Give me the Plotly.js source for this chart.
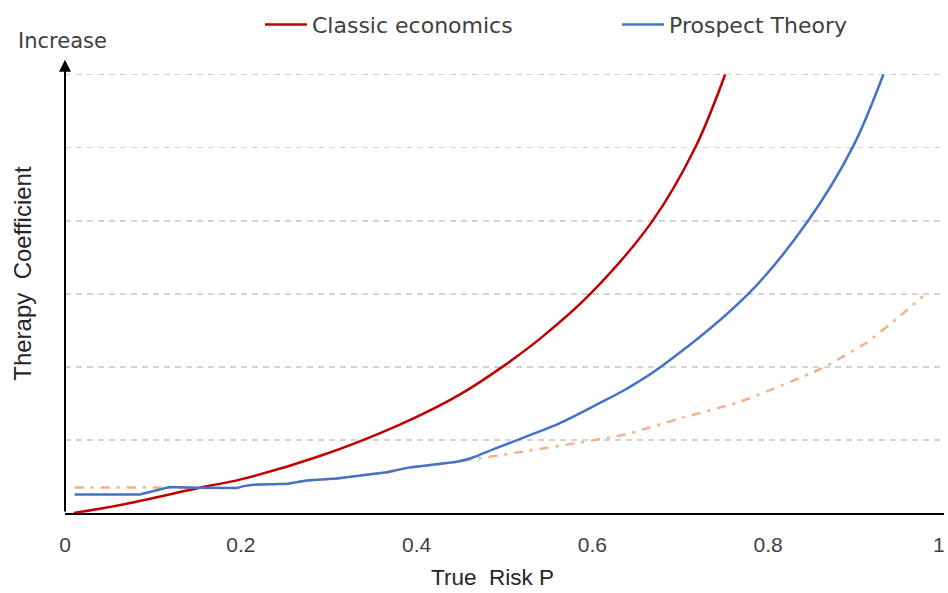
<!DOCTYPE html>
<html>
<head>
<meta charset="utf-8">
<script src="https://cdn.plot.ly/plotly-3.0.1.min.js"></script>
<style>html,body{margin:0;padding:0;background:#fff;}#chart{width:948px;height:593px;}</style>
</head>
<body>
<div id="chart"></div>
<script>
// True risk P (x) and therapy coefficient (y)
const classicX = [0.01, 0.063, 0.157, 0.200, 0.290, 0.381, 0.449, 0.500, 0.544, 0.597, 0.668, 0.717, 0.751];
const classicY = [0, 0.11, 0.355, 0.46, 0.78, 1.21, 1.62, 2.02, 2.42, 2.99, 3.99, 5.0, 6.0];

// Prospect theory: stepped low-risk part, then the smooth rising part
const prospectLowX = [0.011, 0.085, 0.100, 0.119, 0.150, 0.196, 0.203, 0.214, 0.253, 0.275, 0.309, 0.336, 0.366, 0.392, 0.427, 0.446];
const prospectLowY = [0.252, 0.252, 0.297, 0.355, 0.347, 0.341, 0.368, 0.387, 0.400, 0.445, 0.472, 0.512, 0.557, 0.624, 0.670, 0.701];
const prospectHighX = [0.446, 0.464, 0.487, 0.526, 0.563, 0.601, 0.639, 0.678, 0.777, 0.845, 0.896, 0.931];
const prospectHighY = [0.701, 0.76, 0.87, 1.052, 1.231, 1.46, 1.70, 2.0, 2.993, 3.991, 5.002, 6.0];

const dashedX = [0.011, 0.105, 0.196, 0.214, 0.253, 0.275, 0.309, 0.336, 0.366, 0.392, 0.427, 0.446, 0.526, 0.582, 0.639, 0.696, 0.768, 0.859, 0.912, 0.950, 0.976];
const dashedY = [0.35, 0.35, 0.344, 0.387, 0.400, 0.445, 0.472, 0.512, 0.557, 0.624, 0.670, 0.701, 0.849, 0.957, 1.079, 1.281, 1.524, 1.968, 2.333, 2.696, 2.966];

const xTickVals = [0, 0.2, 0.4, 0.6, 0.8, 1];
const xTickText = ['0', '0.2', '0.4', '0.6', '0.8', ''];
const lastTickText = '1';
const gridVals = [1, 2, 3, 4, 5, 6];

const blue = '#4472C4';
const traces = [
  {x: dashedX, y: dashedY, mode: 'lines', showlegend: false, hoverinfo: 'skip',
   line: {color: '#F4B183', width: 2.5, dash: '9px,7px,3px,7px', shape: 'spline', smoothing: 0.5}},
  {x: classicX, y: classicY, mode: 'lines', name: 'Classic economics', legend: 'legend',
   line: {color: '#C00000', width: 2.5, shape: 'spline', smoothing: 1}},
  {x: prospectLowX, y: prospectLowY, mode: 'lines', name: 'Prospect Theory', legend: 'legend2',
   line: {color: blue, width: 2.5}},
  {x: prospectHighX, y: prospectHighY, mode: 'lines', showlegend: false,
   line: {color: blue, width: 2.5, shape: 'spline', smoothing: 1}}
];

const legendFont = {family: 'DejaVu Sans, sans-serif', size: 22, color: '#404040'};
const layout = {
  width: 948, height: 593,
  margin: {l: 65, r: 4, t: 67, b: 80},
  paper_bgcolor: '#ffffff', plot_bgcolor: '#ffffff',
  font: {family: 'Liberation Sans, Arial, sans-serif', color: '#404040'},
  showlegend: true,
  legend: {orientation: 'h', x: 0.2218, y: 1.11, xanchor: 'left', yanchor: 'middle',
           font: legendFont, itemwidth: 42, bgcolor: 'rgba(0,0,0,0)'},
  legend2: {orientation: 'h', x: 0.628, y: 1.11, xanchor: 'left', yanchor: 'middle',
           font: legendFont, itemwidth: 42, bgcolor: 'rgba(0,0,0,0)'},
  xaxis: {range: [0, 1], tickvals: xTickVals, ticktext: xTickText, showgrid: false,
          zeroline: false, showline: true, linecolor: '#000000', linewidth: 2,
          ticks: '', ticklabelstandoff: 12,
          tickfont: {size: 21, color: '#404040'}, automargin: false, fixedrange: true},
  yaxis: {range: [0, 6.02], tickvals: gridVals, showticklabels: false, showgrid: true,
          gridcolor: '#D3D3D3', gridwidth: 1.8, griddash: '6px,5px', zeroline: false,
          showline: false, ticks: '', automargin: false, fixedrange: true},
  annotations: [
    {xref: 'x', yref: 'y', axref: 'x', ayref: 'y', x: 0, y: 6.2, ax: 0, ay: 0,
     showarrow: true, arrowhead: 2, arrowsize: 1.2, arrowwidth: 2, arrowcolor: '#000000', text: ''},
    {xref: 'paper', yref: 'paper', x: 1.0036, y: -0.072, xanchor: 'right', yanchor: 'middle',
     showarrow: false, text: lastTickText, font: {size: 21, color: '#404040'}},
    {xref: 'paper', yref: 'paper', x: -0.0023, y: 1.072, xanchor: 'center', yanchor: 'middle',
     showarrow: false, text: 'Increase', font: {family: 'DejaVu Sans, sans-serif', size: 21, color: '#404040'}},
    {xref: 'paper', yref: 'paper', x: 0.486, y: -0.146, xanchor: 'center', yanchor: 'middle',
     showarrow: false, text: 'True\u00A0 Risk P', font: {size: 22.5, color: '#262626'}},
    {xref: 'paper', yref: 'paper', x: -0.0478, y: 0.546, xanchor: 'center', yanchor: 'middle',
     showarrow: false, textangle: -90, text: 'Therapy\u00A0 Coefficient', font: {size: 24, color: '#262626'}}
  ]
};

Plotly.newPlot('chart', traces, layout, {displayModeBar: false, staticPlot: true});
</script>
</body>
</html>
